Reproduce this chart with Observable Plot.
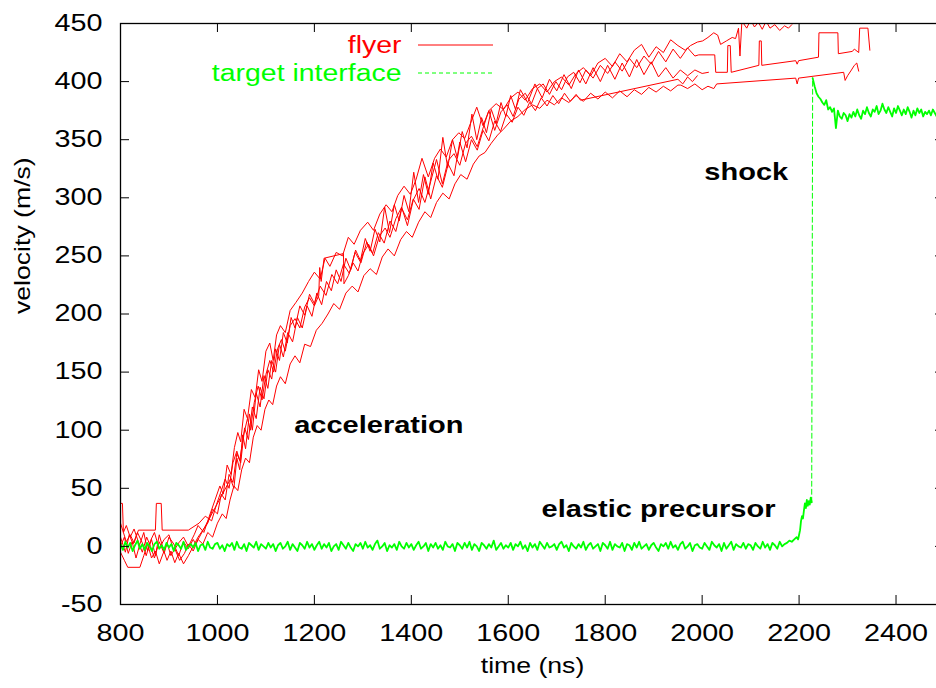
<!DOCTYPE html>
<html><head><meta charset="utf-8">
<script src="https://cdn.jsdelivr.net/npm/d3@7"></script>
<script src="https://cdn.jsdelivr.net/npm/@observablehq/plot@0.6"></script>
<style>html,body{margin:0;padding:0;background:#fff;overflow:hidden;width:936px;height:688px}#chart svg{max-width:none!important;display:block}</style>
</head><body><div id="chart"></div>
<script>
const xTicks = [800,1000,1200,1400,1600,1800,2000,2200,2400];
const yTicks = [-50,0,50,100,150,200,250,300,350,400,450];

const flyer1 = [[800,8],[810,-5],[818,10],[826,2],[835,12],[845,3],[853,-8],[862,5],[870,12],[880,-2],[890,6],[900,10],[910,-4],[920,3],[930,8],[940,0],[952,10],[960,18],[972,12],[985,28],[995,40],[1005,52],[1012,45],[1020,70],[1028,62],[1035,85],[1042,98],[1048,90],[1055,118],[1062,110],[1070,135],[1078,128],[1085,152],[1092,142],[1100,168],[1108,175],[1115,160],[1122,182],[1130,190],[1140,184],[1150,203],[1162,210],[1175,218],[1188,228],[1200,236],[1212,230],[1222,248],[1232,241],[1245,253],[1258,250],[1270,266],[1282,260],[1295,272],[1310,279],[1322,272],[1335,286],[1348,294],[1360,288],[1372,302],[1385,310],[1398,303],[1410,316],[1422,334],[1435,318],[1448,334],[1460,342],[1472,335],[1485,350],[1498,356],[1510,351],[1522,364],[1535,378],[1548,362],[1560,375],[1575,381],[1590,376],[1605,386],[1620,391],[1635,384],[1650,394],[1665,398],[1680,391],[1695,400],[1710,404],[1725,397],[1740,407],[1755,412],[1770,405],[1785,416],[1800,420],[1815,413],[1830,424],[1845,417],[1860,427],[1875,432],[1890,421],[1905,430],[1920,425],[1935,436],[1950,431],[1965,427],[1976,431],[1990,434],[2001,435],[2012,438],[2024,442],[2032,440],[2038,432],[2050,435],[2062,438],[2069,437],[2075,446],[2078,422],[2082,452],[2092,446],[2100,453],[2108,447],[2116,451],[2124,445],[2132,452],[2140,446],[2150,449],[2160,444],[2170,448],[2178,446],[2185,449]];
const flyer2 = [[800,37],[804,37],[806,12],[812,4],[820,10],[828,3],[837,14],[872,14],[874,37],[884,37],[886,14],[940,14],[962,20],[975,26],[988,22],[998,36],[1008,48],[1016,58],[1024,50],[1032,72],[1040,82],[1046,74],[1054,96],[1062,110],[1068,100],[1076,124],[1084,138],[1092,126],[1100,148],[1108,160],[1116,150],[1124,170],[1132,178],[1140,168],[1150,190],[1160,196],[1170,188],[1180,206],[1190,214],[1200,207],[1209,216],[1211,240],[1214,228],[1220,248],[1260,252],[1261,226],[1270,233],[1280,244],[1290,237],[1300,252],[1312,260],[1322,250],[1334,267],[1346,274],[1356,266],[1368,282],[1380,292],[1392,276],[1404,298],[1416,308],[1428,296],[1440,314],[1452,333],[1464,312],[1476,332],[1488,338],[1500,328],[1512,347],[1524,353],[1536,344],[1548,360],[1560,375],[1572,358],[1585,374],[1598,380],[1610,370],[1622,385],[1635,390],[1648,381],[1660,394],[1672,398],[1685,389],[1698,400],[1710,393],[1722,404],[1735,408],[1748,399],[1760,410],[1775,403],[1790,414],[1805,407],[1820,417],[1835,409],[1850,420],[1865,412],[1880,422],[1895,415],[1910,426],[1925,417],[1940,428],[1955,420],[1970,429],[1985,422],[1993,423],[2026,423],[2028,408],[2052,408],[2053,431],[2058,431],[2060,408],[2117,414],[2118,435],[2122,435],[2123,414],[2193,418],[2196,415],[2199,418],[2240,421],[2241,442],[2280,442],[2281,424],[2310,426],[2314,428],[2323,425],[2325,446],[2342,446],[2346,427]];
const flyer3 = [[800,-5],[808,-12],[815,-18],[840,-18],[848,-8],[856,2],[864,-10],[872,-4],[880,-15],[888,-6],[896,3],[904,-8],[912,-2],[922,-12],[932,-6],[940,2],[950,-4],[960,6],[970,2],[980,12],[990,8],[1000,20],[1010,28],[1018,24],[1026,40],[1034,52],[1042,48],[1050,66],[1058,76],[1066,72],[1074,94],[1082,104],[1090,100],[1098,118],[1106,126],[1114,122],[1122,138],[1130,146],[1140,140],[1150,157],[1160,164],[1170,158],[1180,174],[1192,172],[1204,186],[1216,192],[1228,200],[1240,209],[1252,204],[1265,218],[1278,224],[1290,219],[1302,233],[1315,239],[1328,234],[1340,249],[1352,256],[1365,250],[1378,264],[1390,271],[1402,266],[1415,279],[1428,288],[1440,283],[1452,296],[1465,304],[1478,299],[1490,312],[1502,320],[1515,316],[1528,329],[1540,336],[1552,339],[1565,347],[1578,354],[1590,359],[1605,366],[1620,370],[1635,376],[1650,380],[1665,377],[1680,384],[1695,380],[1710,386],[1725,382],[1740,388],[1755,383],[1770,390],[1785,385],[1800,391],[1815,386],[1830,392],[1845,387],[1860,393],[1875,389],[1890,395],[1905,391],[1920,396],[1935,392],[1950,397],[1956,397],[1970,394],[1985,398],[2000,393],[2012,396],[2024,394],[2030,398],[2193,403],[2196,398],[2199,403],[2292,408],[2295,401],[2300,405],[2308,410],[2314,414],[2319,416],[2323,409]];
const flyer4 = [[800,20],[806,12],[812,18],[820,8],[828,15],[836,5],[845,-5],[854,8],[862,0],[870,-10],[880,4],[890,-6],[900,8],[910,2],[920,-8],[930,4],[940,-2],[950,6],[955,2],[1027,58],[1034,50],[1040,76],[1046,66],[1052,96],[1058,84],[1066,114],[1072,100],[1080,132],[1088,120],[1096,147],[1104,136],[1112,160],[1120,150],[1128,174],[1136,163],[1145,184],[1155,176],[1165,197],[1175,188],[1185,207],[1195,198],[1205,218],[1215,208],[1225,228],[1235,220],[1245,238],[1255,228],[1265,248],[1275,238],[1285,255],[1295,246],[1305,265],[1315,254],[1325,273],[1335,262],[1345,292],[1355,270],[1365,294],[1375,280],[1385,302],[1395,288],[1405,322],[1415,296],[1425,320],[1435,303],[1445,330],[1455,316],[1465,352],[1475,326],[1485,350],[1495,334],[1505,357],[1515,343],[1525,372],[1535,350],[1545,369],[1555,356],[1565,376],[1575,364],[1585,382],[1595,370],[1605,388],[1615,376],[1625,393],[1640,382],[1655,398],[1670,386],[1685,402],[1700,392],[1715,406],[1730,394],[1745,410],[1760,398],[1775,412],[1790,400],[1805,414],[1820,402],[1835,416],[1850,404],[1865,419],[1880,406],[1895,417],[1910,404],[1925,412],[1940,403],[1955,410],[1970,405],[1985,410],[2000,407],[2013,408]];
const flyer5 = [[800,0],[808,8],[816,-6],[824,4],[832,-10],[840,2],[848,12],[856,-4],[864,6],[872,-8],[880,10],[888,-2],[896,-12],[904,-4],[912,-14],[920,-6],[930,-15],[940,-8],[950,0],[960,8],[970,14],[980,20],[990,32],[1000,28],[1008,45],[1016,40],[1024,62],[1032,55],[1040,80],[1048,72],[1056,102],[1064,92],[1072,120],[1080,110],[1088,137],[1096,127],[1104,152],[1112,144],[1120,170],[1128,160],[1136,184],[1144,175],[1152,197],[1160,188],[1170,207],[1180,199],[1190,217],[1200,209],[1212,224],[1224,216],[1236,234],[1248,226],[1260,243],[1272,235],[1284,253],[1296,244],[1308,262],[1320,252],[1332,270],[1344,261],[1356,280],[1368,271],[1380,291],[1392,281],[1404,299],[1416,290],[1428,318],[1440,299],[1452,319],[1464,309],[1476,329],[1488,319],[1500,348],[1512,331],[1524,350],[1536,341],[1548,358],[1560,349],[1572,366],[1584,357],[1596,372],[1608,365],[1620,378],[1632,371],[1644,382],[1656,375],[1668,386],[1680,379],[1692,388],[1704,381],[1716,390],[1728,383],[1740,389],[1749,384],[1950,402],[1960,398],[1970,404],[1980,400],[1990,405]];

// target interface: baseline sampled every 5 ns from 800 ns
const targetBaseStart = 800, targetBaseStep = 5;
const targetBase = [
2,-3,4,-1,3,-4,1,5,-2,2,-3,3,0,-4,2,4,-2,1,-3,3,
-1,2,-4,3,1,-2,4,-3,0,2,-1,3,-4,1,2,-3,4,-1,-2,2,
3,-2,1,-4,2,0,3,-3,4,-1,-2,2,-4,3,1,-1,4,-3,2,0,
-2,3,-1,2,-4,1,3,-2,0,4,-3,2,-1,-4,3,1,-2,4,-1,2,
-3,1,4,-2,2,-1,3,-4,0,2,-3,4,1,-2,3,-1,-4,2,0,3,
-2,4,-1,1,-3,2,5,-2,0,3,-4,1,-1,2,-3,4,0,-2,3,-1,
2,-3,1,4,-2,0,3,-4,2,-1,3,-2,1,-3,4,0,-1,2,-4,3,
1,-2,3,-1,4,-3,2,0,-4,3,1,-2,2,-1,5,-3,0,3,-2,1,
-1,3,-3,2,0,4,-2,1,-4,3,-1,2,-3,4,1,-2,3,-1,0,2,
-3,2,4,-1,1,-4,3,0,-2,2,-1,4,-3,1,3,-2,0,2,-4,3,
1,-2,4,-3,2,0,-1,3,-4,2,1,-3,3,-1,4,-2,0,2,-3,1,
3,-1,-4,2,0,3,-2,4,-1,1,-3,2,4,-2,0,3,-4,1,2,-1,
-2,3,0,-3,4,1,-1,2,-4,3,-2,1,4,-3,2,0,-1,3,-2,2,
1,-3,3,0,-2,4,-1,2,-3,3,1,-2,4,0,2,3,5,4,6,8];
const targetRiseT = [2198,2200,2202,2204,2206,2208,2210,2212,2214,2216,2218,2220,2222,2224,2226];
const targetRiseV = [6,10,14,22,26,24,31,37,33,40,35,39,36,42,38];
// after the shock, sampled every 4 ns from 2228 ns
const targetPostStart = 2228, targetPostStep = 4;
const targetPost = [403,396,390,387,385,382,380,384,376,378,374,377,360,375,370,368,373,371,366,372,369,
374,370,376,371,368,375,372,378,373,370,376,374,379,372,375,381,376,373,378,374,
370,377,373,379,375,371,376,372,378,374,369,375,371,377,373,376,370,374,372,375,
371,376,373,370,374,372,376,371];

const labelText = ["acceleration","shock","elastic precursor"];
const labelT = [1333,2091,1910];
const labelV = [104,322,32];

const legendText = ["flyer","target interface"];

const flyerRuns = [flyer1, flyer2, flyer3, flyer4, flyer5];
const flyerData = flyerRuns.flatMap((run, k) => run.map(([t, v]) => ({t, v, run: k})));
const targetPre = targetBase.map((v, i) => ({t: targetBaseStart + i * targetBaseStep, v}))
  .concat(targetRiseT.map((t, i) => ({t, v: targetRiseV[i]})));
const targetAfter = targetPost.map((v, i) => ({t: targetPostStart + i * targetPostStep, v}));
const targetJump = [targetPre[targetPre.length - 1], targetAfter[0]];

const RED = "#ff0000", GREEN = "#00ff00";
const W = 960, H = 688, ML = 120, MR = 16, MT = 23, MB = 84;
const innerW = W - ML - MR, innerH = H - MT - MB, TK = 9;

const chart = Plot.plot({
  width: W, height: H,
  marginLeft: ML, marginRight: MR, marginTop: MT, marginBottom: MB,
  x: {domain: [800, 2500]},
  y: {domain: [-50, 450]},
  style: {fontFamily: "'Liberation Sans', Arial, sans-serif", fontSize: "22px", color: "black", background: "white", maxWidth: "none"},
  marks: [
    Plot.line(flyerData, {x: "t", y: "v", z: "run", stroke: RED, strokeWidth: 1, clip: true}),
    Plot.line(targetPre, {x: "t", y: "v", stroke: GREEN, strokeWidth: 1.8, clip: true}),
    Plot.line(targetJump, {x: "t", y: "v", stroke: GREEN, strokeWidth: 1, strokeDasharray: "5,3", clip: true}),
    Plot.line(targetAfter, {x: "t", y: "v", stroke: GREEN, strokeWidth: 1.8, clip: true}),
    Plot.text(labelText.map((d, i) => i), {x: i => labelT[i], y: i => labelV[i], text: i => labelText[i], fontWeight: "bold", fontSize: 24, fill: "black"}),
    Plot.text([legendText[0]], {frameAnchor: "top-left", dx: 281, dy: 22, textAnchor: "end", lineAnchor: "middle", fill: RED, fontSize: 23.5}),
    Plot.text([legendText[1]], {frameAnchor: "top-left", dx: 281, dy: 50, textAnchor: "end", lineAnchor: "middle", fill: GREEN, fontSize: 23.5}),
    Plot.ruleX(xTicks, {x: d => d, insetTop: innerH - TK, stroke: "black"}),
    Plot.ruleX(xTicks, {x: d => d, insetBottom: innerH - TK, stroke: "black"}),
    Plot.ruleY(yTicks, {y: d => d, insetRight: innerW - TK, stroke: "black"}),
    Plot.ruleY(yTicks, {y: d => d, insetLeft: innerW - TK, stroke: "black"}),
    Plot.frame({stroke: "black", strokeWidth: 1.3}),
    Plot.axisX(xTicks, {tickSize: 0, tickPadding: 20, tickFormat: d => String(d), label: null, fontSize: 23}),
    Plot.axisY(yTicks, {tickSize: 0, tickPadding: 18, tickFormat: d => String(d), label: null, fontSize: 23}),
    Plot.text(["time (ns)"], {frameAnchor: "bottom", dy: 61, lineAnchor: "middle", fontSize: 22}),
    Plot.text(["velocity (m/s)"], {frameAnchor: "left", dx: -98, rotate: -90, lineAnchor: "middle", fontSize: 22})
  ]
});
chart.style.maxWidth = "none";

// legend samples
const svg = d3.select(chart);
svg.append("line").attr("x1", 418).attr("x2", 493).attr("y1", 45).attr("y2", 45)
  .attr("stroke", RED).attr("stroke-width", 1);
svg.append("line").attr("x1", 418).attr("x2", 493).attr("y1", 73).attr("y2", 73)
  .attr("stroke", GREEN).attr("stroke-width", 1).attr("stroke-dasharray", "4,3");

// horizontally widen glyphs like the original rendering
svg.selectAll("text").each(function() {
  const g = this.closest("g");
  const lab = g ? (g.getAttribute("aria-label") || "") : "";
  const S = lab.includes("tick label") ? 1.25 : 1.21;
  const x = +this.getAttribute("x") || 0, y = +this.getAttribute("y") || 0;
  const tr = this.getAttribute("transform") || "";
  this.setAttribute("transform", `${tr} translate(${x},${y}) scale(${S},1) translate(${-x},${-y})`);
});

document.getElementById("chart").appendChild(chart);
</script>
</body></html>
